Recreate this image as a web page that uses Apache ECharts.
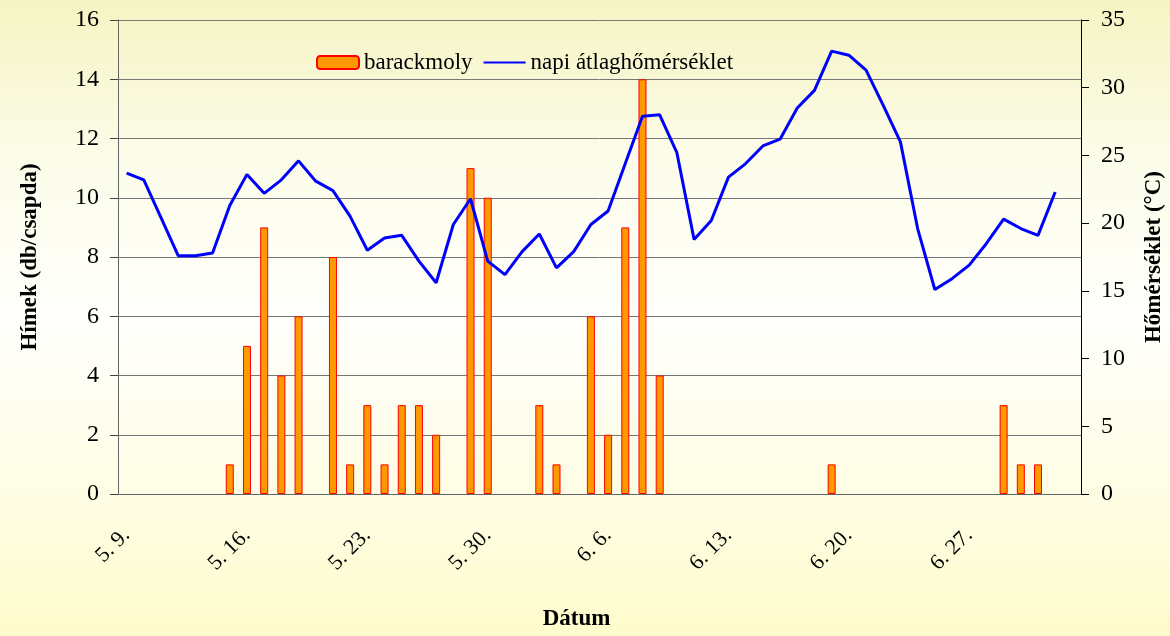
<!DOCTYPE html>
<html>
<head>
<meta charset="utf-8">
<title>barackmoly</title>
<script src="https://cdn.jsdelivr.net/npm/echarts@6/dist/echarts.min.js"></script>
<style>
    html, body { margin: 0; padding: 0; }
    .chartBox { width: 1170px; height: 636px; }
</style>
</head>
<body>
<div class="chartBox"></div>
<script>
// napok 5.9. - 7.3.
const dates = [
    '5. 9.', '5. 10.', '5. 11.', '5. 12.', '5. 13.', '5. 14.', '5. 15.',
    '5. 16.', '5. 17.', '5. 18.', '5. 19.', '5. 20.', '5. 21.', '5. 22.',
    '5. 23.', '5. 24.', '5. 25.', '5. 26.', '5. 27.', '5. 28.', '5. 29.',
    '5. 30.', '5. 31.', '6. 1.', '6. 2.', '6. 3.', '6. 4.', '6. 5.',
    '6. 6.', '6. 7.', '6. 8.', '6. 9.', '6. 10.', '6. 11.', '6. 12.',
    '6. 13.', '6. 14.', '6. 15.', '6. 16.', '6. 17.', '6. 18.', '6. 19.',
    '6. 20.', '6. 21.', '6. 22.', '6. 23.', '6. 24.', '6. 25.', '6. 26.',
    '6. 27.', '6. 28.', '6. 29.', '6. 30.', '7. 1.', '7. 2.', '7. 3.'
];

// hímek / csapda
const mothCounts = [
    null, null, null, null, null, null, 1,
    5, 9, 4, 6, null, 8, 1,
    3, 1, 3, 3, 2, null, 11,
    10, null, null, 3, 1, null, 6,
    2, 9, 14, 4, null, null, null,
    null, null, null, null, null, null, 1,
    null, null, null, null, null, null, null,
    null, null, 3, 1, 1, null, null
];

// napi átlaghőmérséklet (°C)
const dailyTemp = [
    23.7, 23.2, 20.4, 17.6, 17.6, 17.8, 21.3,
    23.6, 22.2, 23.2, 24.6, 23.1, 22.4, 20.5,
    18.0, 18.9, 19.1, 17.2, 15.6, 19.9, 21.8,
    17.2, 16.2, 17.9, 19.2, 16.7, 17.9, 19.9,
    20.9, 24.4, 27.9, 28.0, 25.2, 18.8, 20.2,
    23.4, 24.4, 25.7, 26.2, 28.5, 29.8, 32.7,
    32.4, 31.3, 28.7, 26.0, 19.6, 15.1, 15.9,
    16.9, 18.5, 20.3, 19.6, 19.1, 22.3, null
];

(function () {
    const fontName = '"Liberation Serif", "DejaVu Serif", serif';
    const textColor = '#000';

    let myChart = echarts.init(document.querySelector('.chartBox'));
    myChart.setOption({
        'backgroundColor': {
            'type': 'linear',
            'x': 0, 'y': 0, 'x2': 0, 'y2': 1,
            'colorStops': [
                { 'offset': 0, 'color': '#F6F4C2' },
                { 'offset': 0.25, 'color': '#FCFCEA' },
                { 'offset': 0.5, 'color': '#FFFFFC' },
                { 'offset': 0.78, 'color': '#FEFDE4' },
                { 'offset': 1, 'color': '#FEFCCB' }
            ]
        },
        'animation': false,
        'textStyle': {
            'fontFamily': fontName
        },
        'legend': {
            'top': 46,
            'left': 311,
            'itemWidth': 42,
            'itemHeight': 13,
            'itemGap': 10,
            'textStyle': {
                'fontFamily': fontName,
                'fontSize': 23,
                'color': textColor
            },
            'data': ['barackmoly', 'napi átlaghőmérséklet']
        },
        'grid': {
            'left': 118,
            'right': 89,
            'top': 20,
            'bottom': 142,
            'outerBoundsMode': 'none'
        },
        'xAxis': [{
            'type': 'category',
            'data': dates,
            'boundaryGap': true,
            'name': 'Dátum',
            'nameLocation': 'middle',
            'nameGap': 114,
            'nameTextStyle': {
                'fontFamily': fontName,
                'fontSize': 23,
                'fontWeight': 'bold',
                'color': textColor,
                'padding': [0, 46, 0, 0]
            },
            'axisLine': {
                'lineStyle': { 'color': '#666', 'width': 1 }
            },
            'axisTick': {
                'interval': 6,
                'length': 7,
                'lineStyle': { 'color': '#444' }
            },
            'axisLabel': {
                'interval': 6,
                'rotate': 45,
                'margin': 38,
                'fontFamily': fontName,
                'fontSize': 22,
                'color': textColor
            }
        }],
        'yAxis': [{
            'type': 'value',
            'min': 0,
            'max': 16,
            'interval': 2,
            'name': 'Hímek (db/csapda)',
            'nameLocation': 'middle',
            'nameRotate': 90,
            'nameGap': 76,
            'nameTextStyle': {
                'fontFamily': fontName,
                'fontSize': 23,
                'fontWeight': 'bold',
                'color': textColor
            },
            'axisLine': {
                'show': true,
                'lineStyle': { 'color': '#666', 'width': 1 }
            },
            'axisTick': {
                'show': true,
                'length': 8,
                'lineStyle': { 'color': '#444' }
            },
            'axisLabel': {
                'margin': 19,
                'fontFamily': fontName,
                'fontSize': 24,
                'color': textColor
            },
            'splitLine': {
                'lineStyle': { 'color': '#777', 'width': 1 }
            }
        }, {
            'type': 'value',
            'min': 0,
            'max': 35,
            'interval': 5,
            'position': 'right',
            'name': 'Hőmérséklet (°C)',
            'nameLocation': 'middle',
            'nameRotate': 90,
            'nameGap': 62,
            'nameTextStyle': {
                'fontFamily': fontName,
                'fontSize': 23,
                'fontWeight': 'bold',
                'color': textColor
            },
            'axisLine': {
                'show': true,
                'lineStyle': { 'color': '#000', 'width': 1 }
            },
            'axisTick': {
                'show': true,
                'length': 8,
                'lineStyle': { 'color': '#000' }
            },
            'axisLabel': {
                'margin': 20,
                'fontFamily': fontName,
                'fontSize': 24,
                'color': textColor
            },
            'splitLine': { 'show': false }
        }],
        'series': [{
            'name': 'barackmoly',
            'type': 'bar',
            'yAxisIndex': 0,
            'barWidth': 8,
            'itemStyle': {
                'color': '#FF9900',
                'borderColor': '#FF0000',
                'borderWidth': 1
            },
            'data': mothCounts
        }, {
            'name': 'napi átlaghőmérséklet',
            'type': 'line',
            'yAxisIndex': 1,
            'symbol': 'none',
            'lineStyle': {
                'color': '#0000FF',
                'width': 3
            },
            // a jelmagyarázatban csak a vonal látszódjon
            'itemStyle': {
                'color': 'rgba(0,0,0,0)'
            },
            'data': dailyTemp
        }]
    });
})()
</script>
</body>
</html>
